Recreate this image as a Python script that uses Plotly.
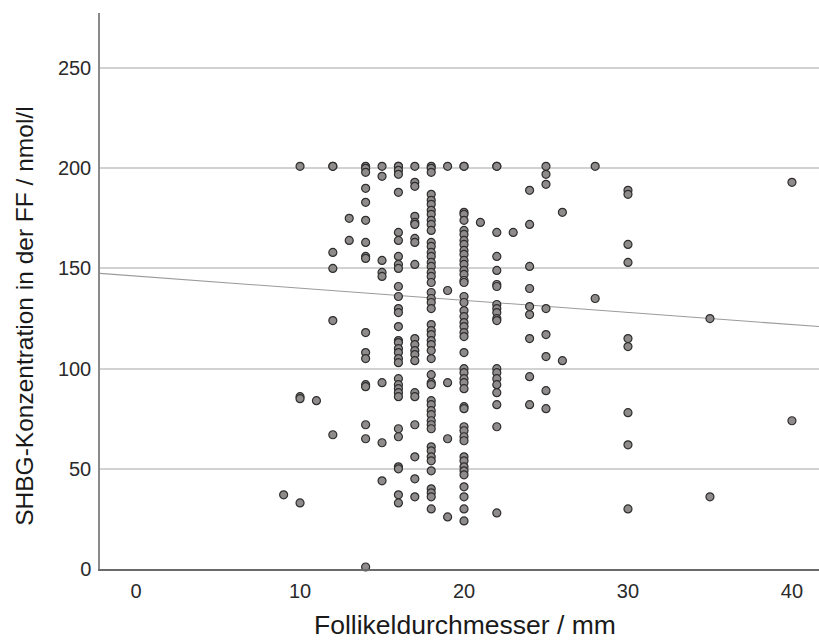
import plotly.graph_objects as go

# Follicle diameter (mm) and SHBG concentration in follicular fluid (nmol/l), grouped by diameter
d09 = [37]
d10 = [201, 86, 85, 33]
d11 = [84]
d12 = [201, 201, 158, 150, 124, 67]
d13 = [175, 164]
d14 = [201, 200, 198, 190, 183, 174, 163, 156, 155, 118, 108, 105, 92, 91, 72, 65, 1]
d15 = [201, 196, 154, 148, 146, 93, 63, 44]
d16 = [201, 201, 199, 197, 188, 168, 164, 156, 152, 150, 141, 136, 130, 128, 121, 114,
       113, 110, 108, 105, 103, 95, 92, 90, 88, 86, 70, 66, 51, 50, 37, 33]
d17 = [201, 193, 191, 176, 173, 172, 165, 163, 152, 115, 112, 109, 107, 104, 88, 86,
       72, 56, 45, 36]
d18 = [201, 200, 198, 187, 184, 182, 179, 177, 174, 172, 169, 163, 161, 158, 156, 153,
       151, 148, 146, 143, 138, 135, 133, 130, 122, 119, 117, 114, 112, 109, 105, 97,
       93, 92, 84, 82, 79, 77, 74, 72, 70, 61, 59, 56, 54, 49, 40, 38, 36, 30]
d19 = [201, 139, 93, 65, 26]
d20 = [201, 201, 178, 177, 174, 169, 167, 164, 162, 159, 157, 154, 152, 149, 147, 144,
       143, 136, 133, 129, 126, 123, 121, 118, 116, 108, 100, 98, 95, 93, 90, 81, 80,
       71, 69, 66, 64, 56, 54, 51, 49, 47, 41, 36, 30, 24]
d21 = [173]
d22 = [201, 201, 168, 156, 149, 142, 141, 132, 130, 128, 125, 124, 100, 98, 95, 92,
       88, 82, 71, 28]
d23 = [168]
d24 = [189, 172, 151, 140, 131, 127, 115, 96, 82]
d25 = [201, 197, 192, 130, 117, 106, 89, 80]
d26 = [178, 104]
d28 = [201, 135]
d30 = [189, 187, 162, 153, 115, 111, 78, 62, 30]
d35 = [125, 36]
d40 = [193, 74]

groups = [(9, d09), (10, d10), (11, d11), (12, d12), (13, d13), (14, d14), (15, d15),
          (16, d16), (17, d17), (18, d18), (19, d19), (20, d20), (21, d21), (22, d22),
          (23, d23), (24, d24), (25, d25), (26, d26), (28, d28), (30, d30), (35, d35),
          (40, d40)]

diameter_mm = [d for d, vals in groups for _ in vals]
shbg_nmol = [v for _, vals in groups for v in vals]

# Linear fit line (intercept, slope)
fit_intercept = 146.2
fit_slope = -0.605
x_range = [-2.2, 41.65]
y_range = [0, 277.5]

y_ticks = [0, 50, 100, 150, 200, 250]
x_ticks = [0, 10, 20, 30, 40]

x_title = "Follikeldurchmesser / mm"
y_title = "SHBG-Konzentration in der FF / nmol/l"

fig = go.Figure()

fig.add_trace(go.Scatter(
    x=x_range,
    y=[fit_intercept + fit_slope * x for x in x_range],
    mode="lines",
    line=dict(color="#9a9a9a", width=1.1),
    hoverinfo="skip",
    showlegend=False,
))

fig.add_trace(go.Scatter(
    x=diameter_mm,
    y=shbg_nmol,
    mode="markers",
    marker=dict(size=8, color="#8f8b8b", line=dict(color="#2e2e2e", width=1.2)),
    cliponaxis=False,
    showlegend=False,
))

font_family = "Liberation Sans, Arial, sans-serif"

fig.update_layout(
    width=819,
    height=643,
    margin=dict(l=100, r=0, t=13, b=74),
    paper_bgcolor="white",
    plot_bgcolor="white",
    font=dict(family=font_family, color="#2a2a2a"),
    xaxis=dict(
        range=x_range,
        tickvals=x_ticks,
        showgrid=False,
        zeroline=False,
        showline=True,
        linecolor="#6a6a6a",
        linewidth=1.5,
        ticks="outside",
        ticklen=3,
        tickcolor="rgba(0,0,0,0)",
        tickfont=dict(size=20, color="#2a2a2a"),
    ),
    yaxis=dict(
        range=y_range,
        tickvals=y_ticks,
        showgrid=True,
        gridcolor="#d2d2d2",
        gridwidth=1.5,
        zeroline=False,
        showline=True,
        linecolor="#8a8a8a",
        linewidth=1.5,
        ticks="outside",
        ticklen=3,
        tickcolor="rgba(0,0,0,0)",
        tickfont=dict(size=20, color="#2a2a2a"),
    ),
    annotations=[
        dict(text=x_title, xref="paper", yref="paper", x=0.5077, y=-0.1005,
             xanchor="center", yanchor="middle", showarrow=False,
             font=dict(size=26.5, color="#1a1a1a")),
        dict(text=y_title, xref="paper", yref="paper", x=-0.106, y=0.455,
             xanchor="center", yanchor="middle", showarrow=False, textangle=-90,
             font=dict(size=24.5, color="#1a1a1a")),
    ],
)

fig.write_html("out.html")
